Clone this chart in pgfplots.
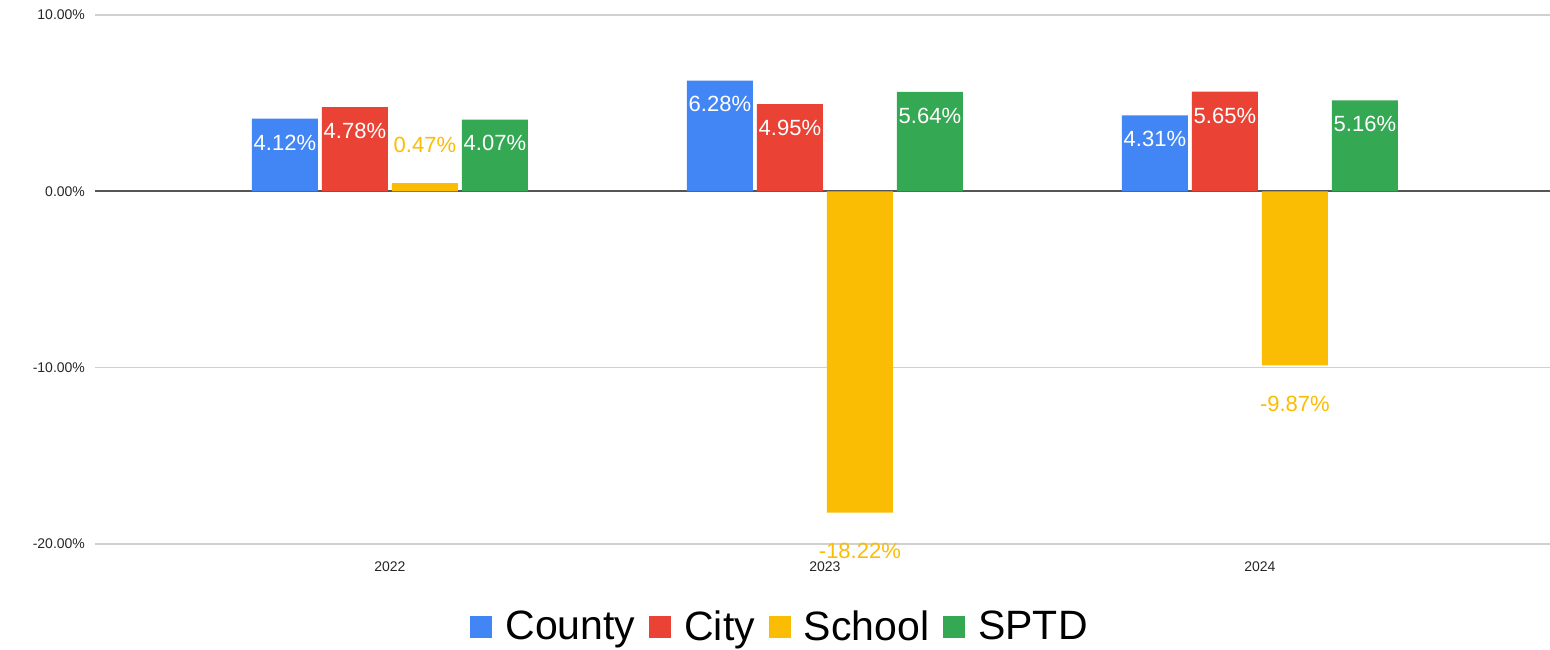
\documentclass[border=0pt]{standalone}
\usepackage{pgfplots}
\pgfplotsset{compat=1.18}
\usepackage{fontspec}
\setmainfont{Liberation Sans}
\definecolor{cblue}{HTML}{4285F4}
\definecolor{cred}{HTML}{EA4335}
\definecolor{cyellow}{HTML}{FBBC04}
\definecolor{cgreen}{HTML}{34A853}
\definecolor{gridgray}{HTML}{D0D0D0}
\definecolor{zerogray}{HTML}{555555}
\begin{document}
\begin{tikzpicture}
\path[use as bounding box] (0,0) rectangle (775pt,324.5pt);
\begin{axis}[
    at={(47.5pt,52.5pt)}, anchor=south west,
    scale only axis, width=727.5pt, height=264.5pt,
    ybar=2pt, bar width=33pt,
    xmin=-0.678, xmax=2.667,
    ymin=-20, ymax=10,
    xtick={0,1,2}, xticklabels={2022,2023,2024},
    ytick={-20,-10,10},
    extra y ticks={0},
    extra y tick style={grid style={zerogray, line width=1pt}},
    yticklabel={\pgfmathprintnumber[fixed,fixed zerofill,precision=2]{\tick}\%},
    /pgf/number format/assume math mode=true,
    tick label style={font=\fontsize{7}{8}\selectfont, text=black!85},
    xticklabel style={yshift=-5.5pt},
    yticklabel style={xshift=-1.5pt},
    major tick length=0pt,
    axis line style={draw=none},
    ymajorgrids,
    grid style={gridgray, line width=0.75pt},
    legend columns=4,
    legend style={at={(0.4715,-0.157)}, anchor=center, draw=none,
        font=\fontsize{20.5}{22}\selectfont,
        /tikz/every odd column/.append style={column sep=4.5pt},
        /tikz/every even column/.append style={column sep=5pt}},
    legend image code/.code={\fill[#1] (0pt,-5.5pt) rectangle (11pt,5.5pt);},
    nodes near coords={\pgfmathprintnumber[fixed,fixed zerofill,precision=2]{\pgfplotspointmeta}\%},
    nodes near coords style={font=\fontsize{11}{12}\selectfont},
]
\addplot[fill=cblue, draw=none,
    nodes near coords style={text=white, inner ysep=0pt, yshift=-16pt}]
    coordinates {(0,4.12) (1,6.28) (2,4.31)};
\addplot[fill=cred, draw=none,
    nodes near coords style={text=white, inner ysep=0pt, yshift=-16pt}]
    coordinates {(0,4.78) (1,4.95) (2,5.65)};
\addplot[fill=cyellow, draw=none,
    nodes near coords style={text=cyellow, inner ysep=15pt}]
    coordinates {(0,0.47) (1,-18.22) (2,-9.87)};
\addplot[fill=cgreen, draw=none,
    nodes near coords style={text=white, inner ysep=0pt, yshift=-16pt}]
    coordinates {(0,4.07) (1,5.64) (2,5.16)};
\legend{County,City,School,SPTD}
\end{axis}
\end{tikzpicture}
\end{document}
